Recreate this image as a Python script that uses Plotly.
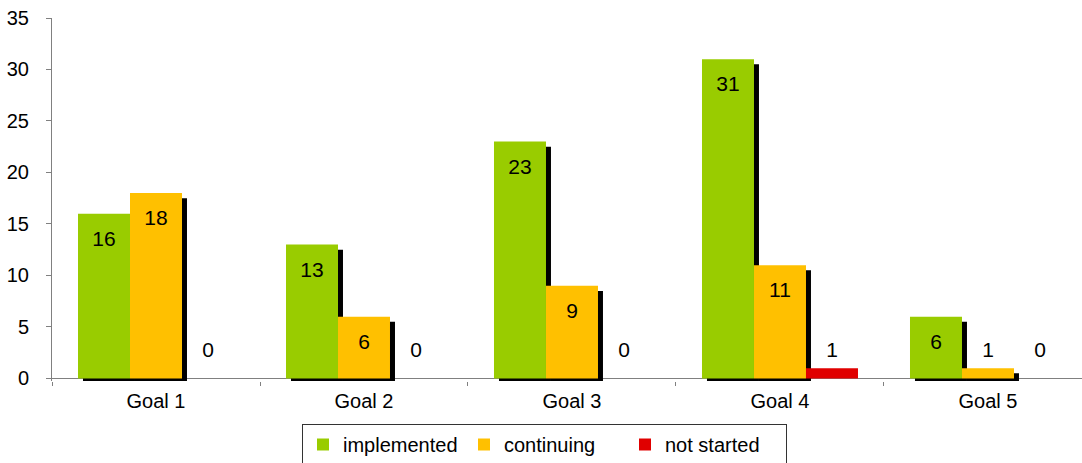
import plotly.graph_objects as go

# Goal progress counts per status
goals = ["Goal 1", "Goal 2", "Goal 3", "Goal 4", "Goal 5"]
implemented = [16, 13, 23, 31, 6]
continuing = [18, 6, 9, 11, 1]
not_started = [0, 0, 0, 1, 0]

series = [
    ("implemented", implemented, "#99CC00", True),
    ("continuing", continuing, "#FFC000", True),
    ("not started", not_started, "#E00000", False),
]

FONT = "Arial, Liberation Sans, sans-serif"
BAR_W = 0.25          # width of one bar in category units
SHADOW_DX = 0.024     # shadow shift to the right (category units)
SHADOW_DY = 0.5       # shadow drop below the bar top (value units)
SHADOW_BASE = -0.25   # shadow reaches just below the zero line
LABEL_DROP = 2.6      # label centre below the bar top
LABEL_MIN = 2.55      # lowest label centre for short bars

idx = list(range(len(goals)))

fig = go.Figure()

# drop shadows behind the first two series
for k, (name, vals, color, shadow) in enumerate(series):
    if not shadow:
        continue
    xs = [g + (k - 1) * BAR_W + SHADOW_DX for g in idx]
    fig.add_trace(go.Bar(
        x=xs, y=[v - SHADOW_BASE - SHADOW_DY for v in vals], base=SHADOW_BASE,
        width=BAR_W, marker=dict(color="black", line=dict(width=0)),
        showlegend=False, hoverinfo="skip",
    ))

# the bars themselves
for k, (name, vals, color, shadow) in enumerate(series):
    xs = [g + (k - 1) * BAR_W for g in idx]
    fig.add_trace(go.Bar(
        x=xs, y=vals, width=BAR_W, name=name,
        marker=dict(color=color, line=dict(width=0)),
    ))

# value labels near the top of each bar
for k, (name, vals, color, shadow) in enumerate(series):
    xs = [g + (k - 1) * BAR_W for g in idx]
    fig.add_trace(go.Scatter(
        x=xs, y=[max(v - LABEL_DROP, LABEL_MIN) for v in vals],
        mode="text", text=[str(v) for v in vals],
        textposition="middle center",
        textfont=dict(family=FONT, size=21, color="black"),
        showlegend=False, hoverinfo="skip", cliponaxis=False,
    ))

fig.update_layout(
    width=1082, height=463,
    margin=dict(l=52, r=0, t=18, b=82, autoexpand=False),
    barmode="overlay",
    plot_bgcolor="white", paper_bgcolor="white",
    font=dict(family=FONT, size=20, color="black"),
    showlegend=True,
    legend=dict(
        orientation="h",
        xref="container", x=302 / 1082, xanchor="left",
        yref="container", y=1 - 424 / 463, yanchor="top",
        bordercolor="#333333", borderwidth=1,
        font=dict(family=FONT, size=20, color="black"),
        traceorder="normal", entrywidth=116, entrywidthmode="pixels",
    ),
    xaxis=dict(
        range=[-0.5, 4.452], tickmode="array", tickvals=idx, ticktext=goals,
        ticks="", showline=False, showgrid=False, zeroline=False,
        minor=dict(tick0=-0.5, dtick=1, ticks="outside", ticklen=4,
                   tickcolor="#808080", showgrid=False),
        tickfont=dict(family=FONT, size=20, color="black"),
        ticklabelstandoff=6, automargin=False,
    ),
    yaxis=dict(
        range=[SHADOW_BASE, 35], tickmode="linear", tick0=0, dtick=5,
        ticks="outside", ticklen=5, tickcolor="#808080",
        showline=True, linecolor="#808080", linewidth=1,
        showgrid=False, zeroline=True, zerolinecolor="#808080", zerolinewidth=1,
        tickfont=dict(family=FONT, size=20, color="black"),
        ticklabelstandoff=13, automargin=False,
    ),
)

fig.write_html("out.html")
